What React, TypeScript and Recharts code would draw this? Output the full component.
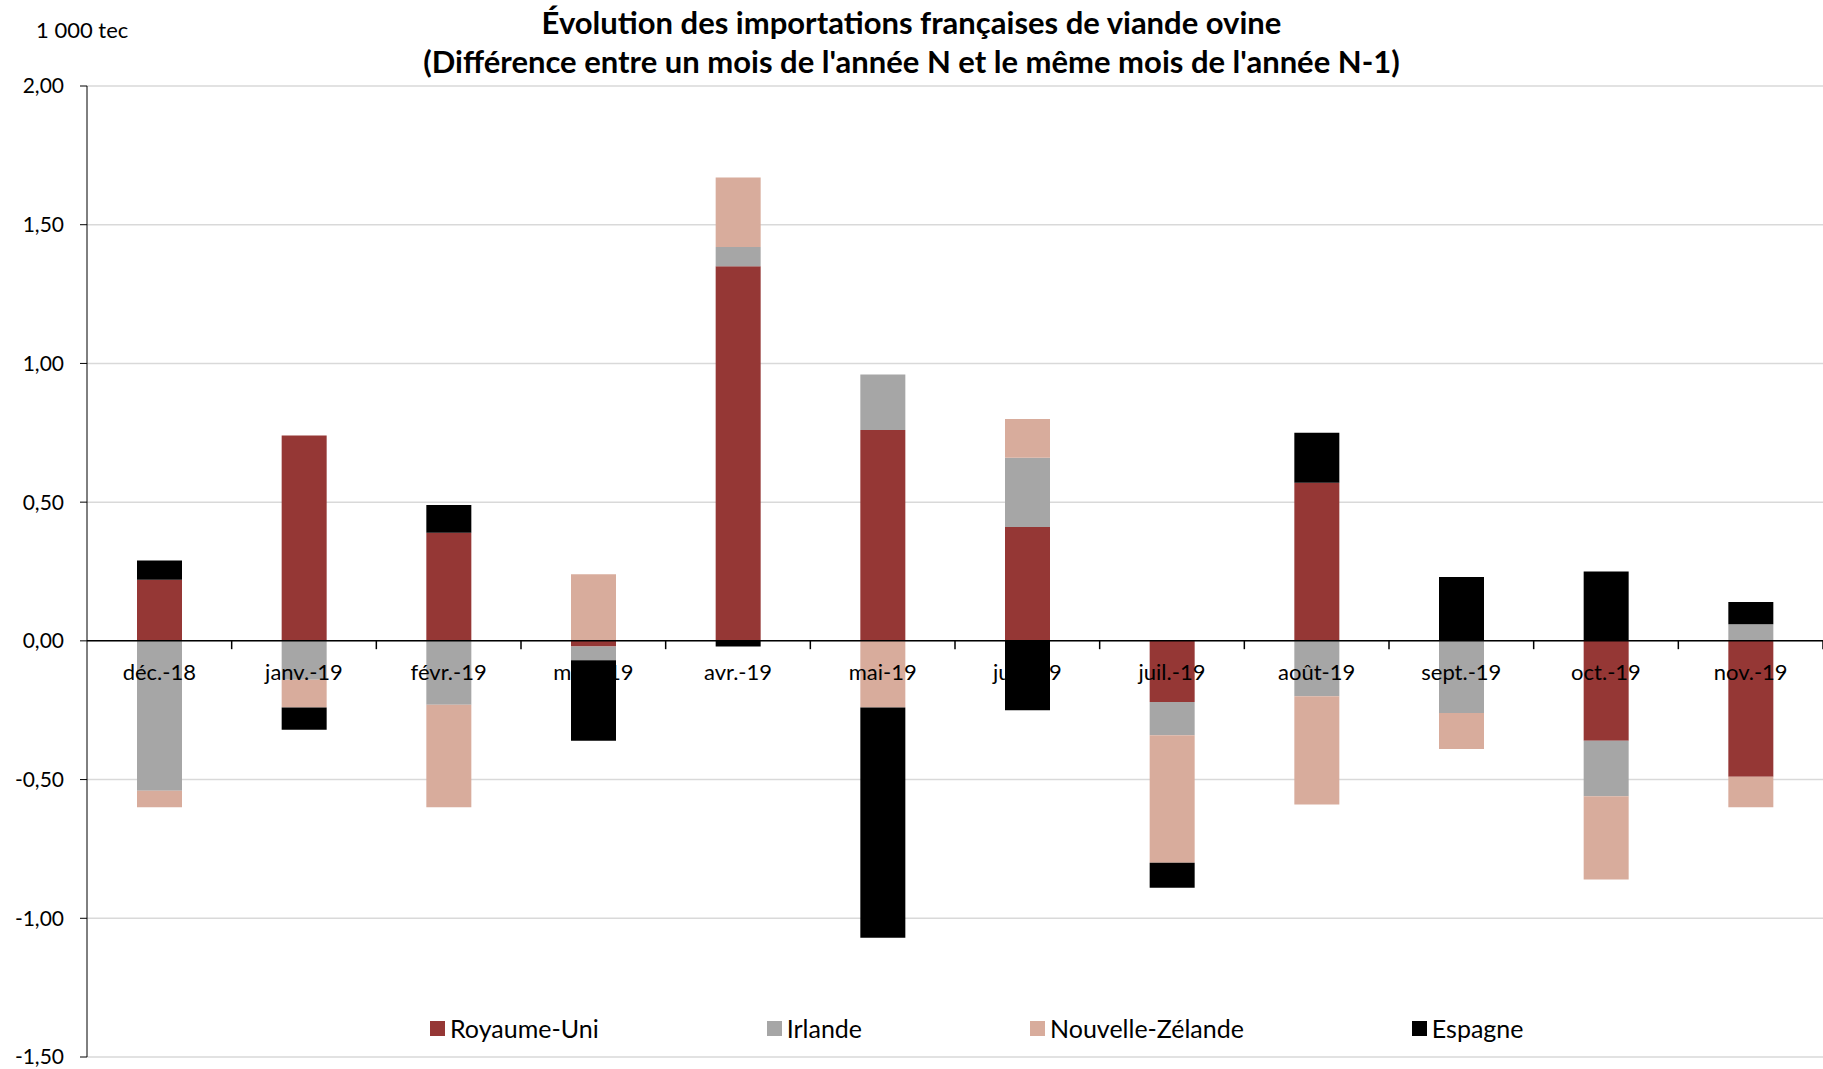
import React from 'react'
import { BarChart, Bar, XAxis, YAxis, CartesianGrid, ReferenceLine, ReferenceDot, Legend } from 'recharts'

// mois (différence N / N-1), en 1 000 tec
const months = ['déc.-18', 'janv.-19', 'févr.-19', 'mars-19', 'avr.-19', 'mai-19', 'juin-19', 'juil.-19', 'août-19', 'sept.-19', 'oct.-19', 'nov.-19']
const royaumeUni = [0.22, 0.74, 0.39, -0.02, 1.35, 0.76, 0.41, -0.22, 0.57, 0, -0.36, -0.49]
const irlande = [-0.54, -0.14, -0.23, -0.05, 0.07, 0.2, 0.25, -0.12, -0.2, -0.26, -0.2, 0.06]
const nouvelleZelande = [-0.06, -0.1, -0.37, 0.24, 0.25, -0.24, 0.14, -0.46, -0.39, -0.13, -0.3, -0.11]
const espagne = [0.07, -0.08, 0.1, -0.29, -0.02, -0.83, -0.25, -0.09, 0.18, 0.23, 0.25, 0.08]
const yTicks = [-1.5, -1, -0.5, 0, 0.5, 1, 1.5, 2]

const series = [
  { key: 'ru', name: 'Royaume-Uni', color: '#953735' },
  { key: 'irl', name: 'Irlande', color: '#a6a6a6' },
  { key: 'nz', name: 'Nouvelle-Zélande', color: '#d8ac9c' },
  { key: 'esp', name: 'Espagne', color: '#000000' },
]

const data = months.map((m, i) => ({
  month: m,
  ru: royaumeUni[i],
  irl: irlande[i],
  nz: nouvelleZelande[i],
  esp: espagne[i],
}))

const FONT = 'Lato, "Open Sans", sans-serif'

const fmt = (v: number) => v.toFixed(2).replace('.', ',')

function renderLegend() {
  return (
    <div style={{ display: 'flex', gap: 168, fontFamily: FONT, fontSize: 25, color: '#000', lineHeight: '30px' }}>
      {series.map(s => (
        <div key={s.key} style={{ display: 'flex', alignItems: 'center' }}>
          <span style={{ width: 15, height: 15, background: s.color, marginRight: 5, display: 'inline-block' }} />
          <span>{s.name}</span>
        </div>
      ))}
    </div>
  )
}

export default function App() {
  return (
    <div style={{ position: 'relative', width: 1823, height: 1069, background: '#fff' }}>
      <style>{'body{margin:0}'}</style>
      <div style={{ position: 'absolute', left: 36, top: 16, fontFamily: FONT, fontSize: 22, color: '#000' }}>1 000 tec</div>
      <div style={{ position: 'absolute', left: 0, top: 3, width: 1823, textAlign: 'center', fontFamily: FONT, fontWeight: 'bold', fontSize: 31, lineHeight: '39px', color: '#000' }}>
        Évolution des importations françaises de viande ovine
        <br />
        (Différence entre un mois de l'année N et le même mois de l'année N-1)
      </div>
      <BarChart width={1823} height={1069} data={data} stackOffset="sign" margin={{ top: 86, right: 0, bottom: 12, left: 0 }}>
        <CartesianGrid vertical={false} stroke="#d9d9d9" strokeWidth={1.5} />
        <XAxis dataKey="month" hide />
        <YAxis
          width={87}
          domain={[-1.5, 2]}
          ticks={yTicks}
          interval={0}
          tickFormatter={fmt}
          stroke="#000"
          tickSize={7}
          tickMargin={16}
          tick={{ fill: '#000', fontSize: 21, fontFamily: FONT }}
        />
        {series.map(s => (
          <Bar key={s.key} dataKey={s.key} name={s.name} stackId="a" fill={s.color} barSize={45} isAnimationActive={false} />
        ))}
        <ReferenceLine y={0} stroke="#000" strokeWidth={1.5} />
        {months.map(m => (
          <ReferenceLine
            key={'t' + m}
            segment={[{ x: m, y: 0 }, { x: m, y: -0.03 }]}
            position="end"
            stroke="#000"
            strokeWidth={1.5}
          />
        ))}
        {months.map(m => (
          <ReferenceDot
            key={'l' + m}
            x={m}
            y={0}
            r={0}
            fill="none"
            stroke="none"
            label={{
              content: (p: any) => (
                <text x={p.viewBox.x} y={p.viewBox.y + 39} textAnchor="middle" fontFamily={FONT} fontSize={22} fill="#000">
                  {m}
                </text>
              ),
            }}
          />
        ))}
        <Legend
          layout="horizontal"
          verticalAlign="middle"
          align="center"
          content={renderLegend}
          wrapperStyle={{ top: 1013, left: 430, width: 1350 }}
        />
      </BarChart>
    </div>
  )
}
